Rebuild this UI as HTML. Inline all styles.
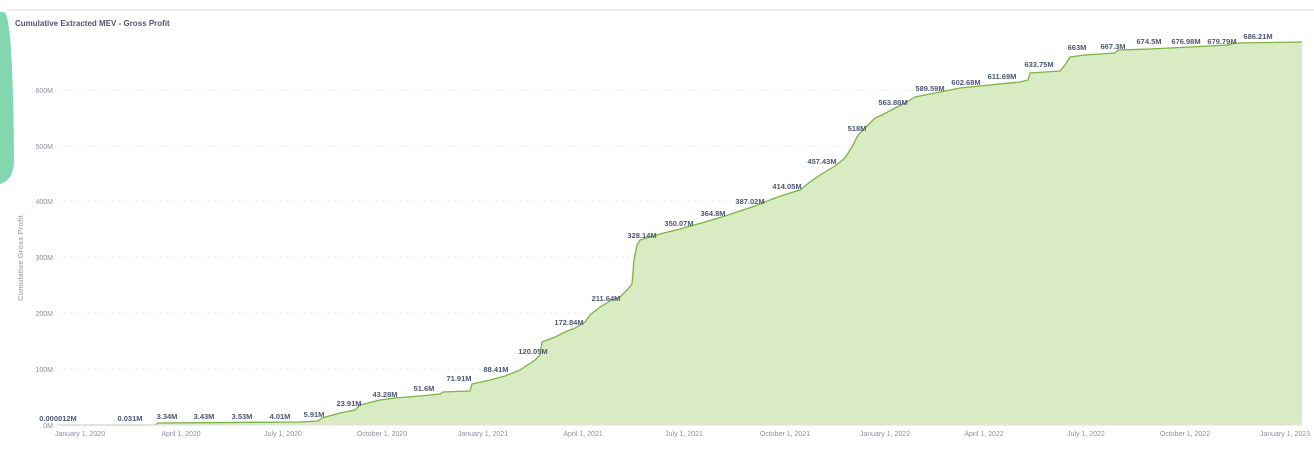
<!DOCTYPE html>
<html><head><meta charset="utf-8"><style>
html,body{margin:0;padding:0;background:#fff;}
svg{display:block;font-family:"Liberation Sans",sans-serif;}
</style></head><body>
<svg width="1314" height="462" viewBox="0 0 1314 462">
<line x1="8" y1="10" x2="1314" y2="10" stroke="#e6e6e6" stroke-width="1.5"/>
<path d="M0,12 L4,12 Q13,14 14,160 Q14,180 0,184 Z" fill="#84d6b0"/>
<text x="15" y="26" font-size="8" font-weight="bold" fill="#4c5773">Cumulative Extracted MEV - Gross Profit</text>
<text transform="translate(23,258) rotate(-90)" font-size="7.5" font-weight="bold" fill="#aab0bd" text-anchor="middle">Cumulative Gross Profit</text>
<g font-size="7" fill="#8a90a0" text-anchor="end">
<text x="53" y="93">600M</text><text x="53" y="149">500M</text><text x="53" y="204">400M</text>
<text x="53" y="260">300M</text><text x="53" y="316">200M</text><text x="53" y="372">100M</text><text x="53" y="428">0M</text>
</g>
<g stroke="#eceef2" stroke-dasharray="3,3" stroke-width="1">
<line x1="57" y1="90" x2="1302" y2="90"/><line x1="57" y1="146" x2="1302" y2="146"/><line x1="57" y1="201" x2="1302" y2="201"/>
<line x1="57" y1="257" x2="1302" y2="257"/><line x1="57" y1="313" x2="1302" y2="313"/><line x1="57" y1="369" x2="1302" y2="369"/>
</g>
<path d="M57,425 L155,425 L158,423 L300,422 L318,421 L322,418 L340,413 L355,410 L360,405 L380,400 L395,398 L420,396 L440,394 L443,392 L470,391 L472,384 L490,380 L505,376 L520,370 L535,360 L540,355 L542,342 L555,337 L565,332 L575,328 L585,322 L590,315 L600,307 L612,300 L620,297 L627,290 L632,284 L634,260 L637,245 L640,240 L660,234 L680,229 L705,222 L725,216 L755,206 L775,198 L790,193 L800,190 L810,182 L820,175 L835,166 L845,158 L852,147 L858,135 L865,128 L875,118 L882,115 L895,108 L905,103 L915,97 L935,93 L960,88 L990,85 L1020,82 L1028,80 L1030,73 L1060,71 L1065,65 L1070,57 L1085,55 L1115,53 L1118,50 L1150,49 L1190,47 L1228,45 L1235,43 L1302,42 L1302,425 Z" fill="#d8ebc3"/>
<path d="M57,425 L155,425 L158,423 L300,422 L318,421 L322,418 L340,413 L355,410 L360,405 L380,400 L395,398 L420,396 L440,394 L443,392 L470,391 L472,384 L490,380 L505,376 L520,370 L535,360 L540,355 L542,342 L555,337 L565,332 L575,328 L585,322 L590,315 L600,307 L612,300 L620,297 L627,290 L632,284 L634,260 L637,245 L640,240 L660,234 L680,229 L705,222 L725,216 L755,206 L775,198 L790,193 L800,190 L810,182 L820,175 L835,166 L845,158 L852,147 L858,135 L865,128 L875,118 L882,115 L895,108 L905,103 L915,97 L935,93 L960,88 L990,85 L1020,82 L1028,80 L1030,73 L1060,71 L1065,65 L1070,57 L1085,55 L1115,53 L1118,50 L1150,49 L1190,47 L1228,45 L1235,43 L1302,42" fill="none" stroke="#7cb342" stroke-width="1.3"/>
<line x1="57" y1="425" x2="1302" y2="425" stroke="#e0e0e0"/>
<g font-size="7.5" font-weight="bold" fill="#4c5773" text-anchor="middle">
<text x="58" y="421">0.000012M</text><text x="130" y="421">0.031M</text><text x="167" y="419">3.34M</text>
<text x="204" y="419">3.43M</text><text x="242" y="419">3.53M</text><text x="280" y="419">4.01M</text>
<text x="314" y="417">5.91M</text><text x="349" y="406">23.91M</text><text x="385" y="397">43.28M</text>
<text x="424" y="391">51.6M</text><text x="459" y="381">71.91M</text><text x="496" y="372">88.41M</text>
<text x="533" y="354">120.05M</text><text x="569" y="325">172.84M</text><text x="606" y="301">211.64M</text>
<text x="642" y="238">328.14M</text><text x="679" y="226">350.07M</text><text x="713" y="216">364.8M</text>
<text x="750" y="204">387.02M</text><text x="787" y="189">414.05M</text><text x="822" y="164">457.43M</text>
<text x="857" y="131">518M</text><text x="893" y="105">563.88M</text><text x="930" y="91">589.59M</text>
<text x="966" y="85">602.68M</text><text x="1002" y="79">611.69M</text><text x="1039" y="67">633.75M</text>
<text x="1077" y="50">663M</text><text x="1113" y="49">667.3M</text><text x="1149" y="44">674.5M</text>
<text x="1186" y="44">676.98M</text><text x="1222" y="44">679.79M</text><text x="1258" y="39">686.21M</text>
</g>
<g font-size="7" fill="#8a90a0" text-anchor="middle">
<text x="80" y="436">January 1, 2020</text><text x="181" y="436">April 1, 2020</text><text x="283" y="436">July 1, 2020</text>
<text x="382" y="436">October 1, 2020</text><text x="483" y="436">January 1, 2021</text><text x="583" y="436">April 1, 2021</text>
<text x="684" y="436">July 1, 2021</text><text x="785" y="436">October 1, 2021</text><text x="885" y="436">January 1, 2022</text>
<text x="984" y="436">April 1, 2022</text><text x="1086" y="436">July 1, 2022</text><text x="1185" y="436">October 1, 2022</text>
<text x="1285" y="436">January 1, 2023</text>
</g>
</svg>
</body></html>
